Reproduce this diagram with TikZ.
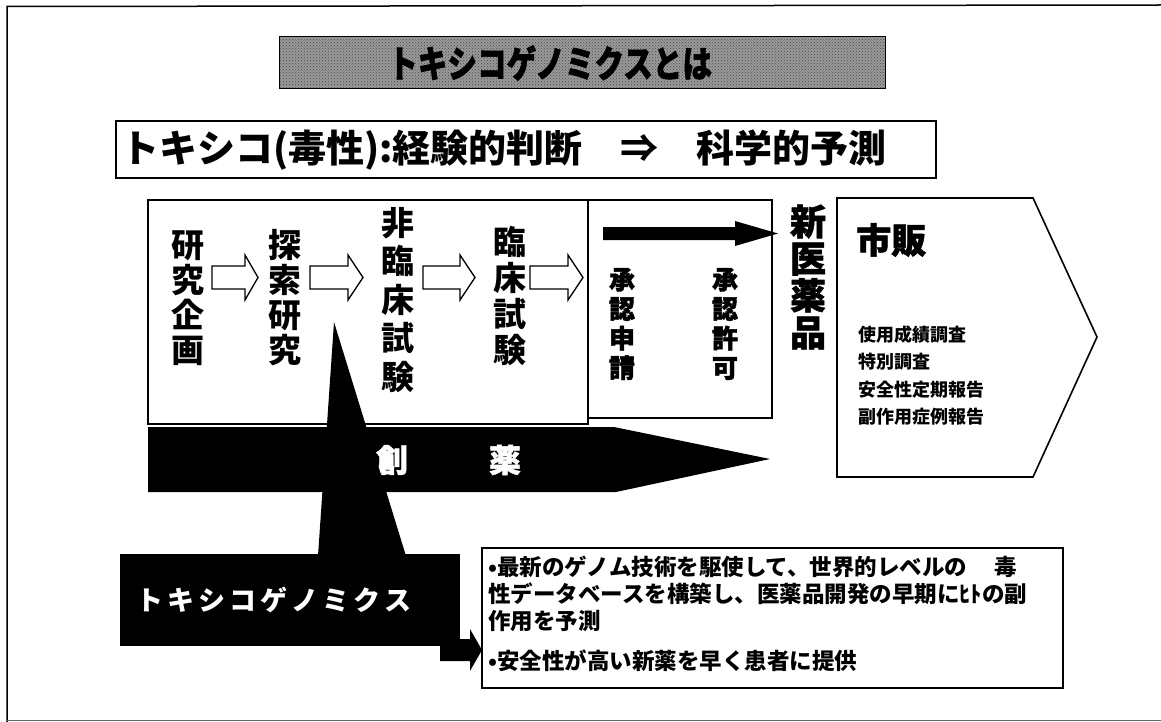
\documentclass[tikz,border=0pt]{standalone}
\usepackage{fontspec}
\setmainfont{Noto Sans CJK JP}
\newfontfamily\jpheavy{Noto Sans CJK JP}[BoldFeatures={FakeBold=1.5}]
\usetikzlibrary{calc,patterns}
\newcommand\fsz[2]{\fontsize{#1}{#2}\selectfont}
\newcommand\hollowarr[3]{% x0, head start, tip
  \draw[harr] (#1,266) -- (#2,266) -- (#2,255) -- (#3,277.5) -- (#2,300) -- (#2,289) -- (#1,289) -- cycle;}
\begin{document}
\begin{tikzpicture}[x=1pt,y=-1pt,line join=miter,
  boxline/.style={line width=1.6pt},
  vcol/.style={font=\bfseries\fsz{33}{35}, align=center, inner sep=0pt},
  vheavy/.style={font=\jpheavy\bfseries\fsz{26}{29.5}, align=center, inner sep=0pt},
  harr/.style={draw, line width=1.3pt, fill=white},
  listitem/.style={anchor=west, inner sep=0pt, font=\bfseries\fsz{18}{18}},
  desc/.style={anchor=west, inner sep=0pt, font=\bfseries\fsz{22.5}{22.5}},
  whitetext/.style={text=white, inner sep=0pt}]
\useasboundingbox (0,0) rectangle (1161,722);
% outer frame
\draw[line width=1.5pt] (7,722) -- (7,6.5) -- (1161,5);
\draw[line width=1pt, black!60] (7,720.5) -- (1161,720.5);
% title banner
\fill[black!40] (279,37) rectangle (885,89);
\fill[pattern=crosshatch dots, pattern color=black!70] (279,37) rectangle (885,89);
\draw[line width=1pt] (279,37) rectangle (885,89);
\node[anchor=west, inner sep=0pt, font=\jpheavy\bfseries\fsz{37}{37}] (title) at (388,63) {\scalebox{0.8}[1]{トキシコゲノミクスとは}};
% subtitle
\draw[line width=1.5pt] (116,121) rectangle (936,178);
\node[anchor=west, inner sep=0pt, font=\bfseries\fsz{38}{38}] (sub) at (121,150) {トキシコ(毒性):経験的判断　⇒　科学的予測};
% process box
\draw[boxline] (148,200) rectangle (588,424);
\node[vcol] (c1) at (188,298) {研\\究\\企\\画};
\node[vcol] (c2) at (285,298) {探\\索\\研\\究};
\node[vcol, font=\bfseries\fsz{33}{38.5}] (c3) at (398,300) {非\\臨\\床\\試\\験};
\node[vcol, font=\bfseries\fsz{33}{36}] (c4) at (510,296) {臨\\床\\試\\験};
\hollowarr{212}{245}{258}
\hollowarr{310}{348}{363}
\hollowarr{423}{460}{475}
\hollowarr{530}{568}{583}
% approval box
\draw[boxline] (588,200) rectangle (772,418);
\fill (603,227) -- (735,227) -- (735,221) -- (778,233.5) -- (735,246) -- (735,240) -- (603,240) -- cycle;
\node[vheavy] (a1) at (622,324) {承\\認\\申\\請};
\node[vheavy] (a2) at (725,324) {承\\認\\許\\可};
% new drug
\node[font=\jpheavy\bfseries\fsz{36}{37}, align=center, inner sep=0pt] (nd) at (808,277) {新\\医\\薬\\品};
% market pentagon
\draw[boxline] (837,198) -- (1033,198) -- (1097,337) -- (1033,477) -- (837,477) -- cycle;
\node[anchor=west, inner sep=0pt, font=\jpheavy\bfseries\fsz{35}{35}] (mk) at (856,240) {市販};
\node[listitem] (l1) at (858,335) {使用成績調査};
\node[listitem] (l2) at (858,362) {特別調査};
\node[listitem] (l3) at (858,390) {安全性定期報告};
\node[listitem] (l4) at (858,417) {副作用症例報告};
% drug discovery bar
\fill (148,427) -- (614,427) -- (770,459) -- (616,492) -- (148,492) -- cycle;
\node[whitetext, font=\jpheavy\bfseries\fsz{32}{32}] (s1) at (392,460) {創};
\node[whitetext, font=\jpheavy\bfseries\fsz{32}{32}] (s2) at (505,460) {薬};
% wedge callout
\fill (334,322) -- (406,556) -- (318,556) -- cycle;
% toxicogenomics box
\fill (120,554) rectangle (460,646);
\node[whitetext, anchor=west, font=\bfseries\fsz{27}{27}] (tg) at (136,600) {ト\kern4ptキ\kern4ptシ\kern4ptコ\kern4ptゲ\kern4ptノ\kern4ptミ\kern4ptク\kern4ptス};
% description box
\draw[boxline] (482,548) rectangle (1063,688);
\node[desc] (d1) at (488,567) {•最新のゲノム技術を駆使して、世界的レベルの　 毒};
\node[desc] (d2) at (488,594) {性データベースを構築し、医薬品開発の早期にﾋﾄの副};
\node[desc] (d3) at (488,621) {作用を予測};
\node[desc] (d4) at (488,661) {•安全性が高い新薬を早く患者に提供};
% small arrow into description box
\coordinate (sa) at (440,650);
\fill (sa) ++(0,-11) -- (470,639) -- (470,629) -- (482,650) -- (470,671) -- (470,661) -- (440,661) -- cycle;
\end{tikzpicture}
\end{document}
